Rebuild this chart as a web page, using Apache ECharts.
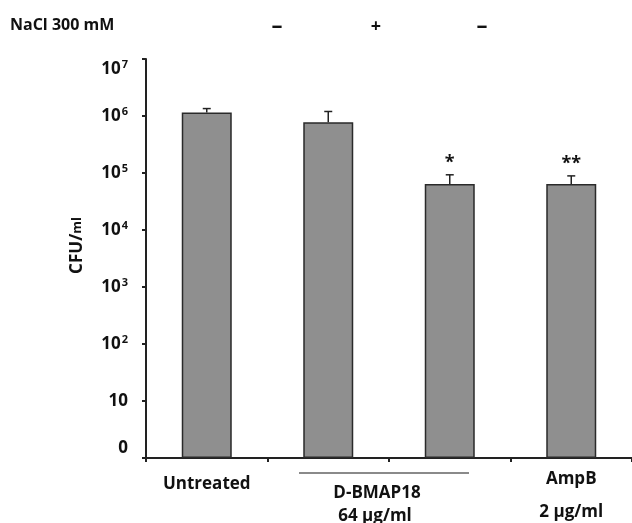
<!DOCTYPE html>
<html>
<head>
<meta charset="utf-8">
<script src="https://cdn.jsdelivr.net/npm/echarts@6/dist/echarts.min.js"></script>
<style>
html,body{margin:0;padding:0;background:#fff;}
#chart{width:632px;height:523px;}
</style>
</head>
<body>
<div id="chart"></div>
<script>
// ---- data ----
var categories = ['Untreated', 'D-BMAP18 -', 'D-BMAP18 +', 'AmpB'];
var cfuValues = [1150000, 780000, 64000, 64000];
var cfuErrors = [200000, 420000, 29000, 25000];
var significance = ['', '', '*', '**'];
var naclLabels = ['\u2013', '+', '\u2013'];

var FONT = 'Open Sans';
var chart = echarts.init(document.getElementById('chart'));

var errData = categories.map(function (c, i) { return [i, cfuValues[i], cfuErrors[i]]; });

var option = {
  animation: false,
  backgroundColor: '#fff',
  textStyle: { fontFamily: FONT, fontWeight: 'bold', color: '#111' },
  grid: { left: 146, right: -9, top: 59, bottom: 65, containLabel: false },
  xAxis: {
    type: 'category',
    data: categories,
    axisLine: { lineStyle: { color: '#222', width: 2 } },
    axisTick: { show: true, length: 4, lineStyle: { color: '#222', width: 2 } },
    axisLabel: {
      margin: 15,
      interval: 0,
      formatter: function (v, i) {
        if (i === 0) return '{u|Untreated}';
        if (i === 3) return '{a|AmpB}\n{b|2 \u00b5g/ml}';
        return '';
      },
      rich: {
        u: { fontFamily: FONT, fontWeight: 'bold', fontSize: 17, color: '#111', lineHeight: 22 },
        a: { fontFamily: FONT, fontWeight: 'bold', fontSize: 17, color: '#111', lineHeight: 12 },
        b: { fontFamily: FONT, fontWeight: 'bold', fontSize: 17, color: '#111', lineHeight: 54 }
      }
    },
    splitLine: { show: false }
  },
  yAxis: {
    type: 'log',
    logBase: 10,
    min: 1,
    max: 10000000,
    splitNumber: 7,
    name: '{n|CFU/}{m|ml}',
    nameLocation: 'middle',
    nameRotate: 90,
    nameGap: 60,
    nameTextStyle: {
      padding: [0, 0, 0, 26],
      rich: {
        n: { fontFamily: FONT, fontWeight: 'bold', fontSize: 17, color: '#111' },
        m: { fontFamily: FONT, fontWeight: 'bold', fontSize: 13, color: '#111' }
      }
    },
    axisLine: { show: true, lineStyle: { color: '#222', width: 2 } },
    axisTick: { show: true, length: 4, lineStyle: { color: '#222', width: 2 } },
    splitLine: { show: false },
    axisLabel: {
      margin: 18,
      showMaxLabel: true,
      formatter: function (v) {
        var e = Math.round(Math.log(v) / Math.LN10);
        if (e === 0) return '{b|0}\n{g| }';
        if (e === 1) return '{b|10}';
        if (e === 7) return '{g| }\n{b|10}{s|' + e + '}';
        return '{b|10}{s|' + e + '}';
      },
      rich: {
        b: { fontFamily: FONT, fontWeight: 'bold', fontSize: 17, color: '#111', lineHeight: 20 },
        s: { fontFamily: FONT, fontWeight: 'bold', fontSize: 11, color: '#111', padding: [0, 0, 8, 1] },
        g: { fontSize: 10, lineHeight: 20 }
      }
    }
  },
  series: [
    {
      type: 'bar',
      data: cfuValues,
      barWidth: 50,
      itemStyle: { color: '#8f8f8f', borderColor: '#2a2a2a', borderWidth: 1.5 },
      z: 2
    },
    {
      type: 'custom',
      data: errData,
      encode: { x: 0, y: 1 },
      z: 3,
      renderItem: function (params, api) {
        var i = api.value(0);
        var v = api.value(1);
        var e = api.value(2);
        var p0 = api.coord([i, v]);
        var p1 = api.coord([i, v + e]);
        var cap = 4;
        var children = [
          { type: 'line', shape: { x1: p0[0], y1: p0[1], x2: p1[0], y2: p1[1] }, style: { stroke: '#222', lineWidth: 1.5 } },
          { type: 'line', shape: { x1: p1[0] - cap, y1: p1[1], x2: p1[0] + cap, y2: p1[1] }, style: { stroke: '#222', lineWidth: 1.5 } }
        ];
        if (significance[params.dataIndex]) {
          children.push({
            type: 'text',
            style: {
              text: significance[params.dataIndex],
              x: p1[0], y: p1[1] - 12,
              align: 'center', verticalAlign: 'middle',
              font: 'bold 18px "' + FONT + '"', fill: '#111'
            }
          });
        }
        return { type: 'group', children: children };
      }
    }
  ],
  graphic: [
    { type: 'text', left: 10, top: 17, style: { text: 'NaCl 300 mM', font: 'bold 16px "' + FONT + '"', fill: '#111' } },
    { type: 'text', x: 277, y: 27, style: { text: naclLabels[0], font: 'bold 22px "' + FONT + '"', fill: '#111', align: 'center', verticalAlign: 'middle' } },
    { type: 'text', x: 376, y: 27, style: { text: naclLabels[1], font: 'bold 18px "' + FONT + '"', fill: '#111', align: 'center', verticalAlign: 'middle' } },
    { type: 'text', x: 482, y: 27, style: { text: naclLabels[2], font: 'bold 22px "' + FONT + '"', fill: '#111', align: 'center', verticalAlign: 'middle' } },
    { type: 'line', shape: { x1: 299, y1: 473, x2: 469, y2: 473 }, style: { stroke: '#8a8a8a', lineWidth: 2 } },
    { type: 'text', x: 377, y: 493, style: { text: 'D-BMAP18', font: 'bold 17px "' + FONT + '"', fill: '#111', align: 'center', verticalAlign: 'middle' } },
    { type: 'text', x: 375, y: 516, style: { text: '64 \u00b5g/ml', font: 'bold 17px "' + FONT + '"', fill: '#111', align: 'center', verticalAlign: 'middle' } }
  ]
};
chart.setOption(option);
</script>
</body>
</html>
